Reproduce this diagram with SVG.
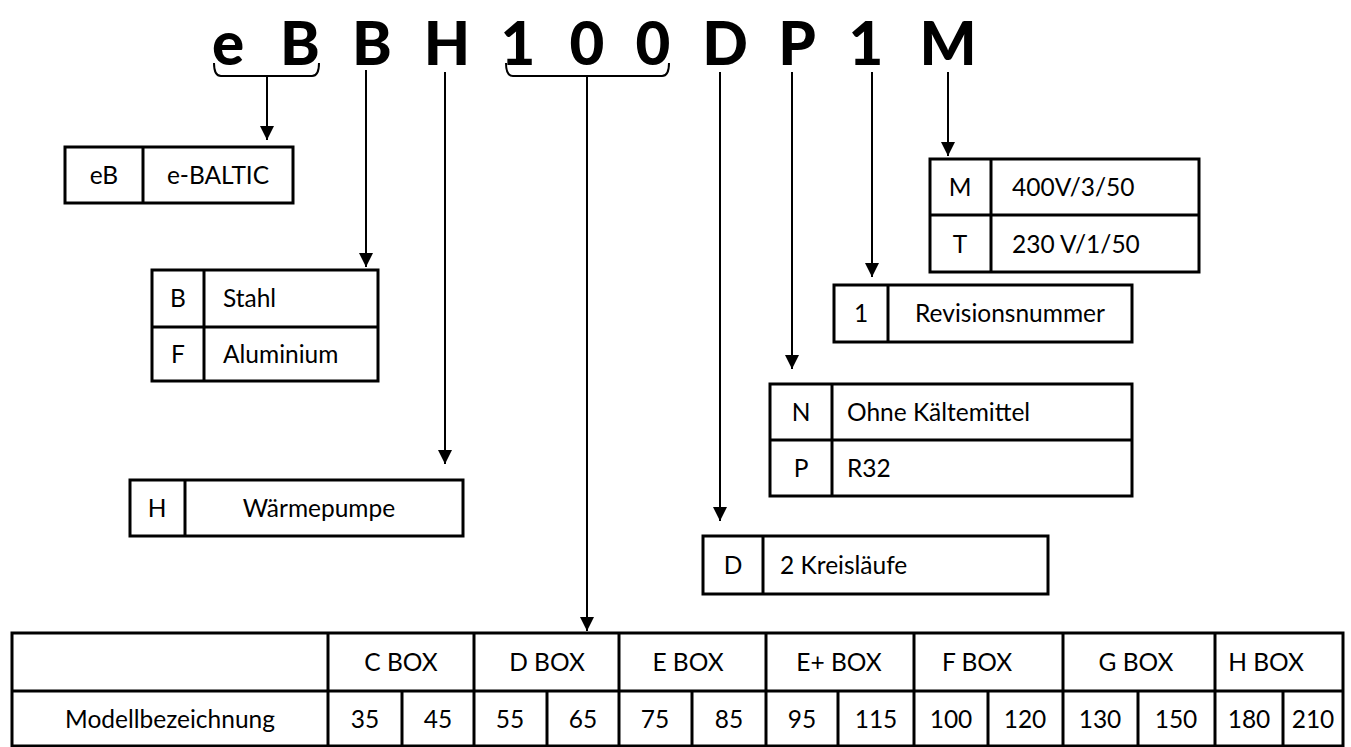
<svg xmlns="http://www.w3.org/2000/svg" width="1351" height="747" viewBox="0 0 1351 747">
<defs>
<marker id="ah" markerUnits="userSpaceOnUse" markerWidth="14" markerHeight="14" refX="14" refY="7" orient="auto">
<path d="M0,0 L14,7 L0,14 z" fill="#000"/>
</marker>
<style>
.t{font-family:Lato,"Liberation Sans",sans-serif;font-size:24.5px;fill:#000}
.c{text-anchor:middle}
.big{font-family:Lato,"Liberation Sans",sans-serif;font-size:60px;font-weight:900;text-anchor:middle;fill:#000}
.b{fill:none;stroke:#000;stroke-width:3}
.l{fill:none;stroke:#000;stroke-width:2}
.a{fill:none;stroke:#000;stroke-width:2;marker-end:url(#ah)}
</style>
</defs>
<rect width="1351" height="747" fill="#fff"/>
<g id="title">
<text class="big" x="228" y="65">e</text>
<text class="big" x="300" y="65">B</text>
<text class="big" x="372" y="65">B</text>
<text class="big" x="447" y="65">H</text>
<text class="big" x="518" y="65">1</text>
<text class="big" x="587" y="65">0</text>
<text class="big" x="653" y="65">0</text>
<text class="big" x="725" y="65">D</text>
<text class="big" x="797" y="65">P</text>
<text class="big" x="866" y="65">1</text>
<text class="big" x="948" y="65">M</text>
</g>
<g id="connectors">
<path class="l" d="M214,63 Q214,76 221,76 H312 Q319,76 319,63"/>
<path class="a" d="M267,76 V140"/>
<path class="a" d="M366,70 V267"/>
<path class="a" d="M445,72 V464"/>
<path class="l" d="M506,63 Q506,76 513,76 H662 Q669,76 669,63"/>
<path class="a" d="M587,76 V631"/>
<path class="a" d="M720,72 V521"/>
<path class="a" d="M792,72 V369"/>
<path class="a" d="M872,72 V277"/>
<path class="a" d="M948,72 V156"/>
</g>
<g id="node-eB">
<rect class="b" x="65" y="147" width="228" height="56"/>
<line class="b" x1="143" y1="147" x2="143" y2="203"/>
<text class="t c" x="104" y="184">eB</text>
<text class="t c" x="218" y="184">e-BALTIC</text>
</g>
<g id="node-B">
<rect class="b" x="152" y="270" width="226" height="111"/>
<line class="b" x1="152" y1="327" x2="378" y2="327"/>
<line class="b" x1="204" y1="270" x2="204" y2="381"/>
<text class="t c" x="178" y="307">B</text>
<text class="t" x="223" y="307">Stahl</text>
<text class="t c" x="178" y="363">F</text>
<text class="t" x="223" y="363">Aluminium</text>
</g>
<g id="node-H">
<rect class="b" x="130" y="480" width="333" height="56"/>
<line class="b" x1="185" y1="480" x2="185" y2="536"/>
<text class="t c" x="157" y="517">H</text>
<text class="t c" x="319" y="517">Wärmepumpe</text>
</g>
<g id="node-M">
<rect class="b" x="930" y="159" width="269" height="113"/>
<line class="b" x1="930" y1="215" x2="1199" y2="215"/>
<line class="b" x1="991" y1="159" x2="991" y2="272"/>
<text class="t c" x="960" y="196">M</text>
<text class="t" x="1012" y="196">400V/3/50</text>
<text class="t c" x="960" y="253">T</text>
<text class="t" x="1012" y="253">230 V/1/50</text>
</g>
<g id="node-1">
<rect class="b" x="834" y="285" width="298" height="57"/>
<line class="b" x1="888" y1="285" x2="888" y2="342"/>
<text class="t c" x="861" y="322">1</text>
<text class="t c" x="1010" y="322">Revisionsnummer</text>
</g>
<g id="node-P">
<rect class="b" x="770" y="384" width="362" height="112"/>
<line class="b" x1="770" y1="440" x2="1132" y2="440"/>
<line class="b" x1="832" y1="384" x2="832" y2="496"/>
<text class="t c" x="801" y="421">N</text>
<text class="t" x="847" y="421">Ohne Kältemittel</text>
<text class="t c" x="801" y="477">P</text>
<text class="t" x="847" y="477">R32</text>
</g>
<g id="node-D">
<rect class="b" x="703" y="536" width="345" height="58"/>
<line class="b" x1="763" y1="536" x2="763" y2="594"/>
<text class="t c" x="733" y="574">D</text>
<text class="t" x="780" y="574">2 Kreisläufe</text>
</g>
<g id="node-table">
<rect class="b" x="12" y="633" width="1331" height="113"/>
<line class="b" x1="12" y1="691" x2="1343" y2="691"/>
<line class="b" x1="328" y1="633" x2="328" y2="746"/>
<line class="b" x1="474" y1="633" x2="474" y2="746"/>
<line class="b" x1="619" y1="633" x2="619" y2="746"/>
<line class="b" x1="766" y1="633" x2="766" y2="746"/>
<line class="b" x1="914" y1="633" x2="914" y2="746"/>
<line class="b" x1="1063" y1="633" x2="1063" y2="746"/>
<line class="b" x1="1215" y1="633" x2="1215" y2="746"/>
<line class="b" x1="402" y1="691" x2="402" y2="746"/>
<line class="b" x1="547" y1="691" x2="547" y2="746"/>
<line class="b" x1="692" y1="691" x2="692" y2="746"/>
<line class="b" x1="838" y1="691" x2="838" y2="746"/>
<line class="b" x1="988" y1="691" x2="988" y2="746"/>
<line class="b" x1="1138" y1="691" x2="1138" y2="746"/>
<line class="b" x1="1283" y1="691" x2="1283" y2="746"/>
<text class="t c" x="401" y="671">C BOX</text>
<text class="t c" x="547" y="671">D BOX</text>
<text class="t c" x="688" y="671">E BOX</text>
<text class="t c" x="839" y="671">E+ BOX</text>
<text class="t c" x="977" y="671">F BOX</text>
<text class="t c" x="1136" y="671">G BOX</text>
<text class="t c" x="1266" y="671">H BOX</text>
<text class="t c" x="170" y="728">Modellbezeichnung</text>
<text class="t c" x="365" y="728">35</text>
<text class="t c" x="438" y="728">45</text>
<text class="t c" x="510" y="728">55</text>
<text class="t c" x="583" y="728">65</text>
<text class="t c" x="655" y="728">75</text>
<text class="t c" x="729" y="728">85</text>
<text class="t c" x="802" y="728">95</text>
<text class="t c" x="876" y="728">115</text>
<text class="t c" x="951" y="728">100</text>
<text class="t c" x="1025" y="728">120</text>
<text class="t c" x="1100" y="728">130</text>
<text class="t c" x="1176" y="728">150</text>
<text class="t c" x="1249" y="728">180</text>
<text class="t c" x="1313" y="728">210</text>
</g>
</svg>
